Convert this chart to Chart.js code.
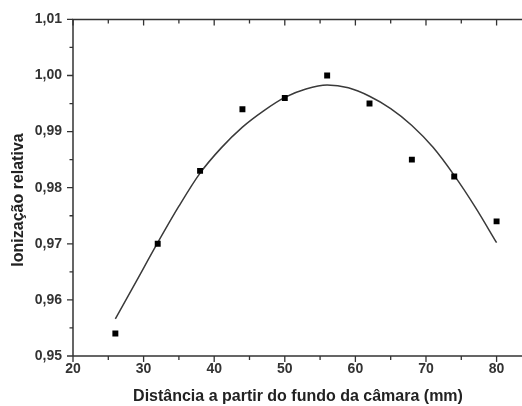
<!DOCTYPE html>
<html>
<head>
<meta charset="utf-8">
<script src="https://cdn.jsdelivr.net/npm/chart.js@4"></script>
<style>
  html, body { margin: 0; padding: 0; background: #fff; }
  #wrap { width: 522px; height: 406px; }
</style>
</head>
<body>
<div id="wrap"><canvas id="grafico" width="522" height="406"></canvas></div>
<script>
// pontos medidos
const distancias = [26, 32, 38, 44, 50, 56, 62, 68, 74, 80];
const ionizacao = [0.954, 0.970, 0.983, 0.994, 0.996, 1.000, 0.995, 0.985, 0.982, 0.974];

// curva ajustada
const curvaX = [26, 29, 32, 35, 38, 41, 44, 47, 50, 53, 56, 59, 62, 65, 68, 71, 74, 77, 80];
const curvaY = [0.9566, 0.9634, 0.9702, 0.9767, 0.9826, 0.9871, 0.9908, 0.9937, 0.9961, 0.9976,
                0.9983, 0.9978, 0.9963, 0.9941, 0.9911, 0.9872, 0.9822, 0.9765, 0.9702];

const xTicks = [20, 30, 40, 50, 60, 70, 80];
const yTicks = [0.95, 0.96, 0.97, 0.98, 0.99, 1.00, 1.01];

const COR = "#333";
const FONTE = "Liberation Sans, Arial, sans-serif";

function virgula(v) {
    return v.toFixed(2).replace(".", ",");
}

// eixos no estilo Origin: ticks maiores/menores, eixo de cima espelhado
const eixosPlugin = {
    id: "eixos",
    afterDraw(chart) {
        const ctx = chart.ctx;
        const a = chart.chartArea;
        const sx = chart.scales.x;
        const sy = chart.scales.y;
        ctx.save();
        ctx.strokeStyle = COR;
        ctx.lineWidth = 1.5;
        ctx.beginPath();
        ctx.moveTo(a.left, a.bottom);
        ctx.lineTo(a.right, a.bottom);
        ctx.moveTo(a.left, a.bottom);
        ctx.lineTo(a.left, a.top);
        ctx.lineTo(a.right, a.top);
        ctx.stroke();

        ctx.lineWidth = 1.3;
        ctx.beginPath();
        for (let v = 20; v <= 80; v += 5) {
            const px = sx.getPixelForValue(v);
            const len = v % 10 === 0 ? 6 : 4;
            ctx.moveTo(px, a.bottom);
            ctx.lineTo(px, a.bottom + len);
            ctx.moveTo(px, a.top);
            ctx.lineTo(px, a.top + len);
        }
        for (let i = 0; i <= 12; i++) {
            const v = 0.95 + i * 0.005;
            const py = sy.getPixelForValue(v);
            const len = i % 2 === 0 ? 6 : 3.5;
            ctx.moveTo(a.left, py);
            ctx.lineTo(a.left - len, py);
        }
        ctx.stroke();

        // títulos dos eixos
        ctx.fillStyle = "#222";
        ctx.font = "bold 16px " + FONTE;
        ctx.textAlign = "center";
        ctx.textBaseline = "middle";
        ctx.fillText("Distância a partir do fundo da câmara (mm)", 298, 397);
        ctx.translate(19, 200);
        ctx.rotate(-Math.PI / 2);
        ctx.fillText("Ionização relativa", 0, 0);
        ctx.restore();
    }
};

new Chart(document.getElementById("grafico"), {
    type: "scatter",
    data: {
        datasets: [
            {
                label: "ajuste",
                data: curvaX.map((x, i) => ({ x: x, y: curvaY[i] })),
                showLine: true,
                borderColor: "#3a3a3a",
                borderWidth: 1.5,
                pointRadius: 0,
                cubicInterpolationMode: "monotone",
                order: 2
            },
            {
                label: "medidas",
                data: distancias.map((x, i) => ({ x: x, y: ionizacao[i] })),
                pointStyle: "rect",
                pointRadius: 4.2,
                backgroundColor: "#000",
                borderColor: "#000",
                borderWidth: 0,
                order: 1
            }
        ]
    },
    options: {
        responsive: false,
        animation: false,
        layout: { autoPadding: false, padding: { top: 19, right: 0, left: 0, bottom: 0 } },
        plugins: {
            legend: { display: false },
            tooltip: { enabled: false }
        },
        scales: {
            x: {
                type: "linear",
                min: 20,
                max: 83.6,
                afterFit: s => { s.height = 50; },
                afterBuildTicks: s => { s.ticks = xTicks.map(v => ({ value: v })); },
                grid: { display: false, drawTicks: false },
                border: { display: false },
                ticks: {
                    padding: 5,
                    color: COR,
                    font: { family: FONTE, size: 14, weight: "bold" }
                }
            },
            y: {
                min: 0.95,
                max: 1.01,
                afterFit: s => { s.width = 73; },
                afterBuildTicks: s => { s.ticks = yTicks.map(v => ({ value: v })); },
                grid: { display: false, drawTicks: false },
                border: { display: false },
                ticks: {
                    padding: 11,
                    color: COR,
                    font: { family: FONTE, size: 14, weight: "bold" },
                    callback: v => virgula(v)
                }
            }
        }
    },
    plugins: [eixosPlugin]
});
</script>
</body>
</html>
